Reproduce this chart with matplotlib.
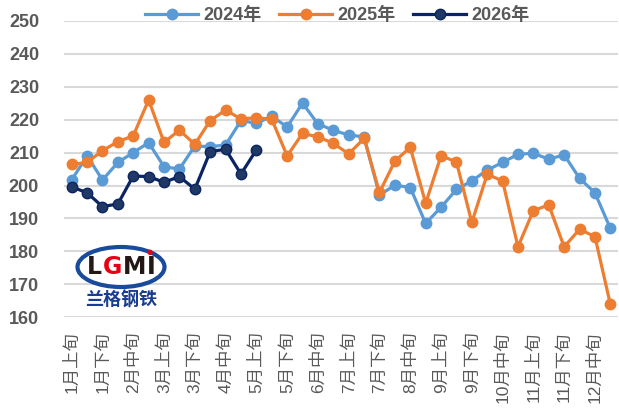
import matplotlib.pyplot as plt
from matplotlib.patches import Ellipse

plt.rcParams['font.family'] = ['Liberation Sans', 'Noto Sans CJK SC']

months = [f'{m}月' for m in range(1, 13)]
periods = ['上旬', '中旬', '下旬']
categories = [m + p for m in months for p in periods]

price_2024 = [201.7, 209.0, 201.7, 207.0, 210.0, 213.0, 205.7, 205.0, 212.0, 211.8, 212.3, 219.7,
              218.9, 221.0, 217.8, 225.0, 218.7, 216.8, 215.3, 214.8, 197.1, 200.1, 199.4, 188.5,
              193.4, 198.8, 201.4, 204.7, 207.0, 209.5, 209.8, 208.0, 209.3, 202.2, 197.8, 187.0]
price_2025 = [206.4, 207.0, 210.6, 213.3, 215.1, 226.0, 213.1, 216.8, 212.5, 219.7, 222.9, 220.2,
              220.6, 220.1, 209.0, 215.8, 214.8, 212.8, 209.6, 214.3, 197.9, 207.4, 211.6, 194.6,
              209.0, 207.2, 188.8, 203.4, 201.4, 181.4, 192.4, 194.1, 181.4, 186.7, 184.5, 164.0]
price_2026 = [199.6, 197.8, 193.6, 194.4, 202.9, 202.7, 201.0, 202.7, 198.9, 210.3, 211.0, 203.5,
              210.8]

gray = '#595959'

fig = plt.figure(figsize=(6.19, 4.08), dpi=100)
ax = fig.add_axes([0.1034, 0.2223, 0.8950, 0.7267])

x = list(range(len(categories)))
ax.plot(x, price_2024, color='#5B9BD5', lw=2.3, marker='o', ms=7.5, label='2024年')
ax.plot(x, price_2025, color='#ED7D31', lw=2.3, marker='o', ms=7.5, label='2025年')
ax.plot(x[:len(price_2026)], price_2026, color='#0B2463', lw=2.3, marker='o', ms=7.5,
        mfc='#1F3864', mec='#0B2463', label='2026年')

ax.set_xlim(-0.5, len(categories) - 0.5)
ax.set_ylim(160, 250)
ax.set_yticks(range(160, 251, 10))
ax.set_xticks(x[::2])
ax.set_xticklabels(categories[::2], rotation=90, fontsize=12.5, color=gray)
ax.tick_params(axis='y', length=0, labelsize=13, labelcolor=gray, pad=18)
ax.tick_params(axis='x', length=0, pad=10)
for lab in ax.get_yticklabels():
    lab.set_fontweight('bold')
ax.grid(axis='y', color='#D9D9D9', lw=1.5)
ax.set_axisbelow(True)
for s in ax.spines.values():
    s.set_visible(False)

leg = fig.legend(loc='center', bbox_to_anchor=(0.545, 0.962), ncol=3, frameon=False,
                 fontsize=13, handlelength=2.9, columnspacing=1.0, handletextpad=0.3)
for t in leg.get_texts():
    t.set_color(gray)
    t.set_fontweight('bold')

# logo
fig.patches.append(Ellipse((121 / 619, 1 - 267 / 408), 87 / 619, 40 / 408,
                           transform=fig.transFigure, facecolor='white',
                           edgecolor='#1A4A9C', lw=3, zorder=5))
logo_x = 87 / 619
for ch, col, adv in zip(['L', 'G', 'M', 'I'], ['#231815', '#E60012', '#231815', '#231815'],
                        [15.5, 20, 24.5, 9]):
    fig.text(logo_x, 1 - 267 / 408, ch, color=col, fontsize=17, fontweight='bold',
             ha='left', va='center', zorder=6, family='DejaVu Sans')
    logo_x += adv / 619
fig.text(150 / 619, 1 - 252 / 408, '●', color='#E60012', fontsize=5, ha='center',
         va='center', zorder=7, family='DejaVu Sans')
fig.text(121 / 619, 1 - 300 / 408, '兰格钢铁', color='#1A3E8F', fontsize=13,
         fontweight='bold', ha='center', va='center', family='Noto Sans CJK SC')

fig.savefig('out.png', dpi=100)
